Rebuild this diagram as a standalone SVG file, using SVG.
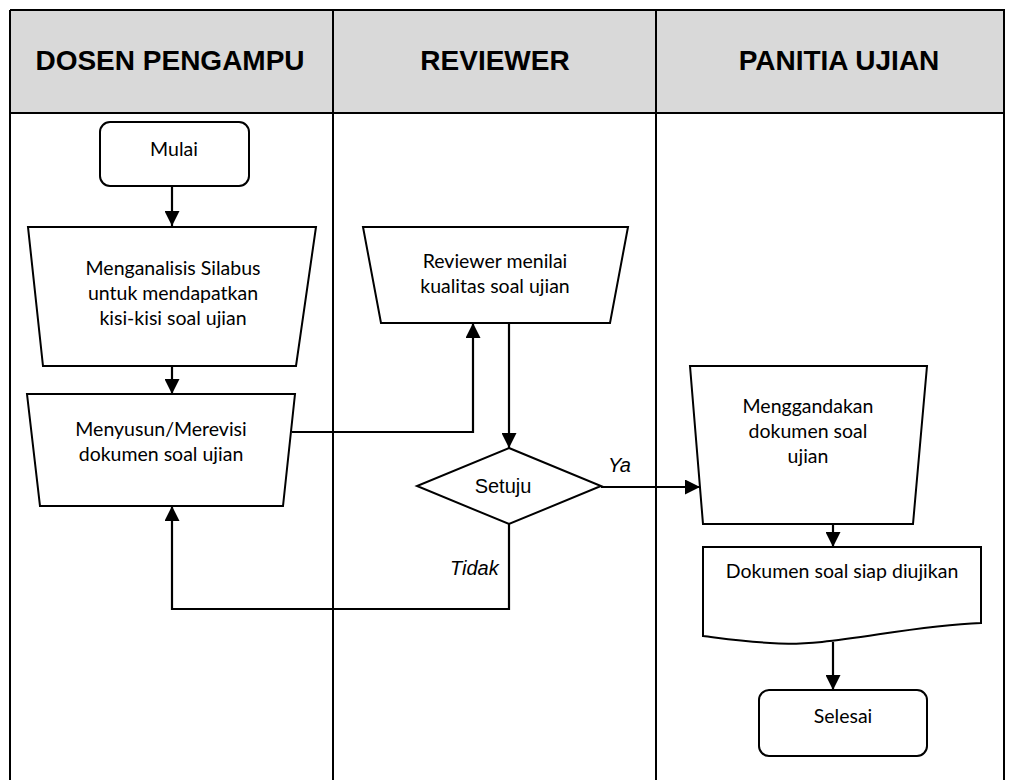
<svg xmlns="http://www.w3.org/2000/svg" width="1013" height="780" viewBox="0 0 1013 780">
<style>
.lane{fill:none;stroke:#000;stroke-width:2}
.hdr{fill:#d9d9d9;stroke:none}
.ht{font-family:"Liberation Sans",Arial,sans-serif;font-weight:bold;font-size:28px;text-anchor:middle;fill:#000}
.box{fill:#fff;stroke:#000;stroke-width:2}
.t{font-family:Lato,"Open Sans",sans-serif;font-size:19.5px;text-anchor:middle;fill:#000}
.a{font-family:"Liberation Sans",Arial,sans-serif;font-size:20px;fill:#000}
.c{fill:none;stroke:#000;stroke-width:2.2}
</style>
<defs>
<marker id="ah" viewBox="0 0 15 15" refX="15" refY="7.5" markerWidth="15" markerHeight="15" markerUnits="userSpaceOnUse" orient="auto">
<path d="M0,0 L15,7.5 L0,15 Z" fill="#000"/>
</marker>
</defs>
<rect width="1013" height="780" fill="#fff"/>
<g id="lanes">
<rect class="hdr" x="10" y="10" width="994" height="103"/>
<path class="lane" d="M10,10 H1004 V780 M10,10 V780 M10,113 H1004 M333,10 V780 M656,10 V780"/>
<text class="ht" x="170" y="70">DOSEN PENGAMPU</text>
<text class="ht" x="495" y="70">REVIEWER</text>
<text class="ht" x="839" y="70">PANITIA UJIAN</text>
</g>
<g id="connectors">
<path class="c" d="M172,186 V226" marker-end="url(#ah)"/>
<path class="c" d="M172,366 V394" marker-end="url(#ah)"/>
<path class="c" d="M292,432 H473 V323" marker-end="url(#ah)"/>
<path class="c" d="M509,323 V448" marker-end="url(#ah)"/>
<path class="c" d="M601,487 H700" marker-end="url(#ah)"/>
<path class="c" d="M509,524 V609 H172 V506" marker-end="url(#ah)"/>
<path class="c" d="M833,524 V547" marker-end="url(#ah)"/>
<path class="c" d="M833,642 V690" marker-end="url(#ah)"/>
<text class="a" x="608" y="472" font-style="italic">Ya</text>
<text class="a" x="450" y="575" font-style="italic">Tidak</text>
</g>
<g id="mulai">
<rect class="box" x="100" y="122" width="149" height="64" rx="10"/>
<text class="t" x="174" y="156">Mulai</text>
</g>
<g id="menganalisis">
<path class="box" d="M28,227 H316 L296,366 H43 Z"/>
<text class="t" x="173" y="275">Menganalisis Silabus</text>
<text class="t" x="173" y="300">untuk mendapatkan</text>
<text class="t" x="173" y="325">kisi-kisi soal ujian</text>
</g>
<g id="menyusun">
<path class="box" d="M27,394 H295 L283,506 H40 Z"/>
<text class="t" x="161" y="436">Menyusun/Merevisi</text>
<text class="t" x="161" y="461">dokumen soal ujian</text>
</g>
<g id="reviewer">
<path class="box" d="M363,227 H628 L610,323 H381 Z"/>
<text class="t" x="495" y="268">Reviewer menilai</text>
<text class="t" x="495" y="293">kualitas soal ujian</text>
</g>
<g id="setuju">
<path class="box" d="M509,448 L601,486 L509,524 L417,486 Z"/>
<text class="a" x="503" y="493" text-anchor="middle">Setuju</text>
</g>
<g id="menggandakan">
<path class="box" d="M690,366 H927 L913,524 H703 Z"/>
<text class="t" x="808" y="413">Menggandakan</text>
<text class="t" x="808" y="438">dokumen soal</text>
<text class="t" x="808" y="463">ujian</text>
</g>
<g id="dokumen">
<path class="box" d="M703,547 H981 V623 C900,626 830,648 770,643 C740,641 720,638 703,636 Z"/>
<text class="t" x="842" y="578">Dokumen soal siap diujikan</text>
</g>
<g id="selesai">
<rect class="box" x="759" y="690" width="168" height="66" rx="10"/>
<text class="t" x="843" y="723">Selesai</text>
</g>
</svg>
